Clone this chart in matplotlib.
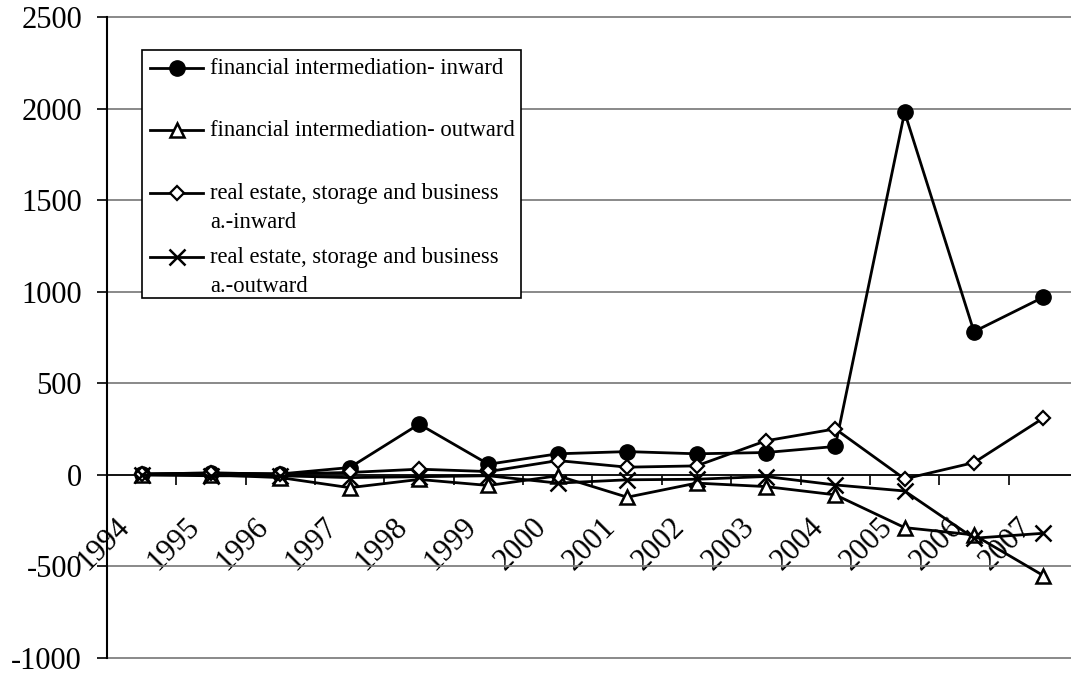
import matplotlib.pyplot as plt
from matplotlib.patches import Rectangle
import numpy as np

plt.rcParams['font.family'] = ['Liberation Serif', 'DejaVu Serif']
plt.rcParams['axes.unicode_minus'] = False

years = [str(y) for y in range(1994, 2008)]

# FDI flows by activity
fin_in = [5, 10, 5, 40, 277, 58, 115, 127, 115, 122, 155, 1980, 782, 970]
fin_out = [0, 0, -15, -70, -25, -58, -5, -122, -45, -64, -109, -288, -328, -550]
re_in = [5, 10, 5, 13, 31, 18, 78, 42, 49, 186, 251, -22, 67, 310]
re_out = [0, -5, -5, -15, -10, -5, -45, -27, -24, -9, -55, -88, -346, -319]

names = ['financial intermediation- inward',
         'financial intermediation- outward',
         'real estate, storage and business\na.-inward',
         'real estate, storage and business\na.-outward']

styles = [dict(marker='o', ms=11, mfc='black', mec='black'),
          dict(marker='^', ms=10, mfc='white', mec='black', mew=1.8),
          dict(marker='D', ms=7, mfc='white', mec='black', mew=1.6),
          dict(marker='x', ms=11, mec='black', mew=1.8)]

W, H = 1071, 675
fig = plt.figure(figsize=(W / 100, H / 100), dpi=100)
# plot area runs a little past the right edge of the figure
ax = fig.add_axes([107 / W, 17 / H, 971 / W, 641 / H])

x = np.arange(len(years))
for vals, st in zip([fin_in, fin_out, re_in, re_out], styles):
    ax.plot(x, vals, color='black', lw=2, zorder=3, **st)

ax.set_xlim(-0.5, len(years) - 0.5)
ax.set_ylim(-1000, 2500)
ax.set_yticks(np.arange(-1000, 2501, 500))
ax.grid(axis='y', color='#808080', lw=1.3, zorder=0)
for gl in ax.get_ygridlines():
    gl.set_clip_on(False)

for s in ['top', 'right']:
    ax.spines[s].set_visible(False)
ax.spines['left'].set_linewidth(1.5)
ax.spines['bottom'].set_position(('data', 0))
ax.spines['bottom'].set_linewidth(1.2)

ax.tick_params(axis='y', direction='out', length=7, width=1.2, pad=11, labelsize=22)

# year labels sit left of each category centre, slanted
ax.set_xticks(x - 0.38, years)
ax.set_xticks(np.arange(0.5, len(years), 1), minor=True)
ax.tick_params(axis='x', which='major', length=0, pad=27, labelsize=22)
ax.tick_params(axis='x', which='minor', direction='out', length=7, width=1.2)
plt.setp(ax.get_xticklabels(), rotation=45, ha='right', va='top', rotation_mode='anchor')

# legend box drawn by hand (pixel positions -> axes fraction)
def fx(px):
    return (px - 107) / 971

def fy(py):
    return (658 - py) / 641

ax.add_patch(Rectangle((fx(142), fy(298)), fx(521) - fx(142), fy(50) - fy(298),
                       transform=ax.transAxes, fc='white', ec='black', lw=1.2, zorder=4))
rows = [68, 130, 193, 257]
for name, st, ry in zip(names, styles, rows):
    ax.plot([fx(150), fx(203)], [fy(ry), fy(ry)], color='black', lw=2,
            transform=ax.transAxes, clip_on=False, zorder=5)
    ax.plot([fx(177)], [fy(ry)], transform=ax.transAxes, clip_on=False, zorder=5,
            color='black', lw=0, **st)
    for k, line in enumerate(name.split('\n')):
        ax.text(fx(210), fy(ry + 29 * k), line, transform=ax.transAxes,
                fontsize=16.3, va='center', ha='left', zorder=6)

fig.savefig('out.png', dpi=100)
